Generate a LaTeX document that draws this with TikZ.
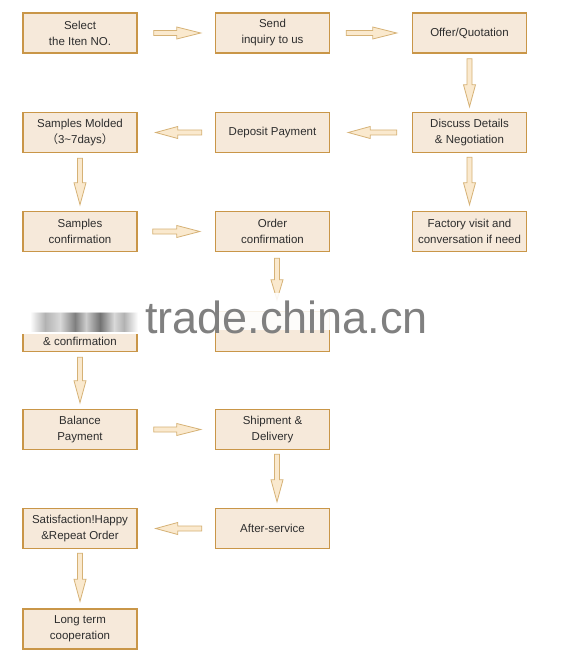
\documentclass[tikz,border=0pt]{standalone}
\usepackage{fontspec}
\setmainfont{Liberation Sans}
\newfontfamily\cjk{Noto Sans CJK SC}
\newfontfamily\wmfont{Liberation Sans}
\usetikzlibrary{calc,fadings}
\definecolor{boxfill}{RGB}{246,233,218}
\definecolor{boxline}{RGB}{201,150,72}
\definecolor{arrfill}{RGB}{250,233,206}
\definecolor{arrline}{RGB}{214,178,118}
\definecolor{txt}{RGB}{45,45,45}
\definecolor{wmgray}{RGB}{128,128,128}
\tikzset{
  stepbox/.style={draw=boxline, fill=boxfill, line width=1.4pt, minimum width=114pt,
    minimum height=40pt, inner sep=0pt, align=center, text=txt,
    font=\fontsize{11.5}{16}\selectfont},
  fatarr/.style={draw=arrline, fill=arrfill, line width=0.8pt, line join=miter},
  smudge/.style={path fading=south, fill opacity=0.7}
}
% #1 from, #2 to, #3 start gap, #4 end gap, #5 end gap + head length
\newcommand\fatarrow[5]{%
  \draw[fatarr] ($(#1)!#3!(#2)!2.5pt!90:(#2)$)
    -- ($(#2)!#5!(#1)!2.5pt!90:(#2)$)
    -- ($(#2)!#5!(#1)!6pt!90:(#2)$)
    -- ($(#2)!#4!(#1)$)
    -- ($(#2)!#5!(#1)!6pt!-90:(#2)$)
    -- ($(#2)!#5!(#1)!2.5pt!-90:(#2)$)
    -- ($(#1)!#3!(#2)!2.5pt!-90:(#2)$) -- cycle;}
\begin{document}
\begin{tikzpicture}[x=1pt,y=-1pt]
\useasboundingbox[fill=white] (0,0) rectangle (570,660);
% boxes
\node[stepbox] (n1) at (80,33) {Select\\the Iten NO.};
\node[stepbox] (n2) at (272.5,33) {Send\\inquiry to us};
\node[stepbox] (n3) at (469.5,33) {Offer/Quotation};
\node[stepbox] (n4) at (469.5,132.5) {Discuss Details\\\& Negotiation};
\node[stepbox] (n5) at (272.5,132.5) {Deposit Payment};
\node[stepbox] (n6) at (80,132.5) {Samples Molded\\{\cjk （}3\textasciitilde 7days{\cjk ）}};
\node[stepbox] (n7) at (469.5,231.5) {Factory visit and\\conversation if need};
\node[stepbox] (n8) at (80,231.5) {Samples\\confirmation};
\node[stepbox] (n9) at (272.5,231.5) {Order\\confirmation};
\node[stepbox] (n10) at (80,331.5) {\strut\\\& confirmation};
\node[stepbox] (n11) at (272.5,331.5) {};
\node[stepbox] (n12) at (80,429.5) {Balance\\Payment};
\node[stepbox] (n13) at (272.5,429.5) {Shipment \&\\Delivery};
\node[stepbox] (n14) at (80,528.5) {Satisfaction!Happy\\\&Repeat Order};
\node[stepbox] (n15) at (272.5,528.5) {After-service};
\node[stepbox] (n16) at (80,629) {Long term\\cooperation};
% arrows
\fatarrow{n1.east}{n2.west}{16pt}{14pt}{38pt}
\fatarrow{n2.east}{n3.west}{16pt}{15pt}{39pt}
\fatarrow{n3.south}{n4.north}{5pt}{5pt}{27pt}
\fatarrow{n4.west}{n5.east}{15pt}{18pt}{40pt}
\fatarrow{n5.west}{n6.east}{13pt}{18pt}{40pt}
\fatarrow{n4.south}{n7.north}{4pt}{6pt}{28pt}
\fatarrow{n6.south}{n8.north}{5pt}{6pt}{28pt}
\fatarrow{n8.east}{n9.west}{15pt}{15pt}{38pt}
\fatarrow{[xshift=4.5pt]n9.south}{[xshift=4.5pt]n11.north}{6pt}{11pt}{31pt}
\fatarrow{n10.south}{n12.north}{5pt}{6pt}{28pt}
\fatarrow{n12.east}{n13.west}{16pt}{14pt}{38pt}
\fatarrow{[xshift=4.5pt]n13.south}{[xshift=4.5pt]n15.north}{4pt}{6pt}{28pt}
\fatarrow{n15.west}{n14.east}{13pt}{18pt}{40pt}
\fatarrow{n14.south}{n16.north}{4pt}{7pt}{29pt}
% watermark band
\fill[white] (14,308) rectangle (141,333.5);
\shade[left color=white, right color=black!30] (30,312) rectangle (45,331);
\shade[left color=black!30, right color=black!15] (45,312) rectangle (60,331);
\shade[left color=black!15, right color=black!50] (60,312) rectangle (75,331);
\shade[left color=black!50, right color=black!20] (75,312) rectangle (86,331);
\shade[left color=black!20, right color=black!55] (86,312) rectangle (100,331);
\shade[left color=black!55, right color=black!15] (100,312) rectangle (114,331);
\shade[left color=black!15, right color=black!30] (114,312) rectangle (124,331);
\shade[left color=black!30, right color=white] (124,312) rectangle (138,331);
\fill[white, opacity=0.55] (14,308) rectangle (141,313);
\fill[white, opacity=0.88] (207,293) rectangle (338,330);
\node[anchor=base west, inner sep=0pt, text=wmgray, font=\wmfont\fontsize{45}{45}\selectfont] (wm) at (145,333) {trade.china.cn};
\end{tikzpicture}
\end{document}
